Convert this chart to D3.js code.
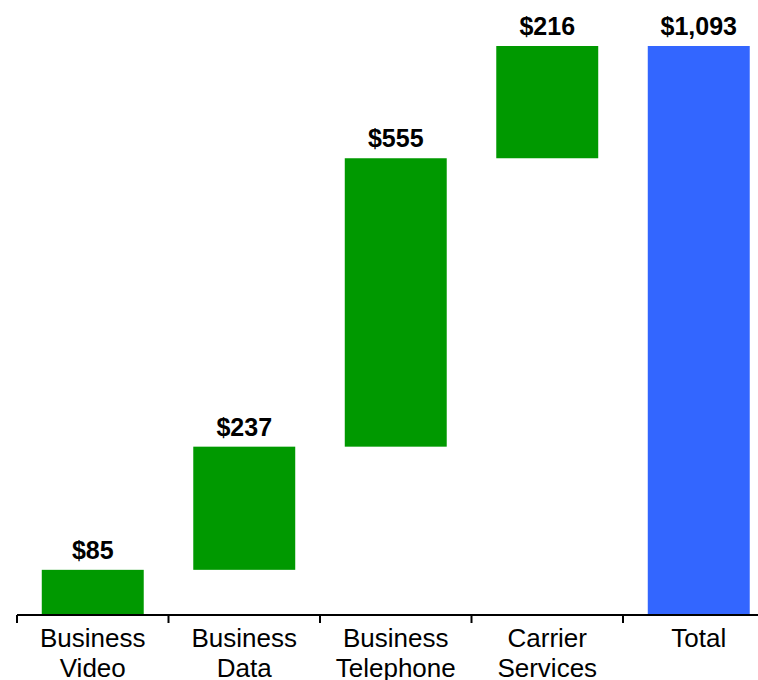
<!DOCTYPE html>
<html>
<head>
<meta charset="utf-8">
<script src="https://cdn.jsdelivr.net/npm/d3@7"></script>
<style>
  html, body { margin: 0; padding: 0; background: #fff; }
  svg { display: block; }
</style>
</head>
<body>
<svg id="chart" width="758" height="680"></svg>
<script>
// Revenue build-up by segment (waterfall)
const categories = [["Business", "Video"], ["Business", "Data"], ["Business", "Telephone"], ["Carrier", "Services"], ["Total"]];
const increments = [85, 237, 555, 216];
const total = 1093;
const valueLabels = ["$85", "$237", "$555", "$216", "$1,093"];

const svg = d3.select("#chart");
const keys = categories.map(c => c.join(" "));

const x = d3.scaleBand()
  .domain(keys)
  .range([17, 774.5])
  .paddingInner(0.327)
  .paddingOuter(0.1635);

const y = d3.scaleLinear().domain([0, total]).range([614, 46]);

// floating segments, each starting where the previous one ended
let running = 0;
const bars = increments.map((v, i) => {
  const b = { key: keys[i], y0: running, y1: running + v, color: "#009900", label: valueLabels[i] };
  running += v;
  return b;
});
bars.push({ key: keys[4], y0: 0, y1: total, color: "#3366FF", label: valueLabels[4] });

svg.selectAll("rect.bar")
  .data(bars)
  .join("rect")
  .attr("class", "bar")
  .attr("x", d => x(d.key))
  .attr("width", x.bandwidth())
  .attr("y", d => y(d.y1))
  .attr("height", d => y(d.y0) - y(d.y1))
  .attr("fill", d => d.color);

svg.selectAll("text.value")
  .data(bars)
  .join("text")
  .attr("class", "value")
  .attr("x", d => x(d.key) + x.bandwidth() / 2)
  .attr("y", d => y(d.y1) - 11)
  .attr("text-anchor", "middle")
  .attr("font-family", "Liberation Sans, Arial, sans-serif")
  .attr("font-weight", "bold")
  .attr("font-size", 25)
  .attr("fill", "#000")
  .text(d => d.label);

// category axis: baseline with ticks at band boundaries
const step = x.step();
const axisY = 615;
const axis = svg.append("g");
axis.append("line")
  .attr("x1", x.range()[0]).attr("x2", x.range()[1])
  .attr("y1", axisY).attr("y2", axisY)
  .attr("stroke", "#000").attr("stroke-width", 2);
const tickXs = keys.map((k, i) => x.range()[0] + i * step);
axis.selectAll("line.tick")
  .data(tickXs)
  .join("line")
  .attr("class", "tick")
  .attr("x1", d => d).attr("x2", d => d)
  .attr("y1", axisY).attr("y2", axisY + 8)
  .attr("stroke", "#000").attr("stroke-width", 2);

const catText = svg.selectAll("text.cat")
  .data(categories)
  .join("text")
  .attr("class", "cat")
  .attr("text-anchor", "middle")
  .attr("font-family", "Liberation Sans, Arial, sans-serif")
  .attr("font-size", 26)
  .attr("fill", "#000");
catText.selectAll("tspan")
  .data((d, i) => d.map((line, j) => ({ line, j, key: keys[i] })))
  .join("tspan")
  .attr("x", d => x(d.key) + x.bandwidth() / 2)
  .attr("y", d => 647 + d.j * 30)
  .text(d => d.line);
</script>
</body>
</html>
